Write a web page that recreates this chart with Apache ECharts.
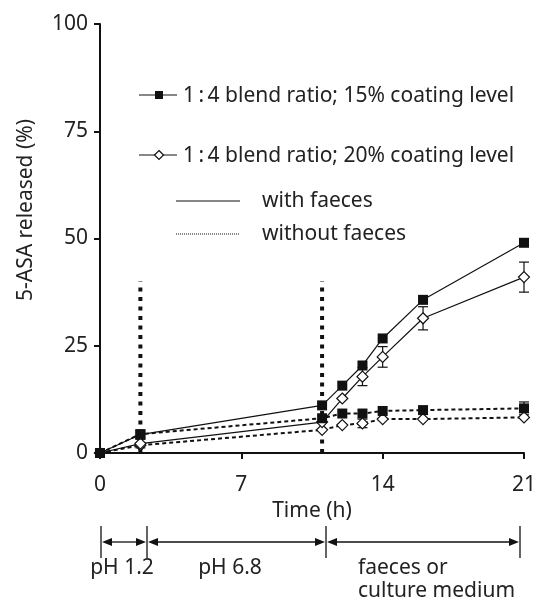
<!DOCTYPE html>
<html>
<head>
<meta charset="utf-8">
<script src="https://cdn.jsdelivr.net/npm/echarts@6/dist/echarts.min.js"></script>
<style>html,body{margin:0;padding:0;background:#fff}#c{width:539px;height:605px}</style>
</head>
<body>
<div id="c"></div>
<script>
// ---- data ----
const times = [0, 2, 11, 12, 13, 14, 16, 21];
const aWith = [0, 4.3, 11.1, 15.7, 20.4, 26.7, 35.7, 49.0];
const bWith = [0, 2.2, 7.2, 12.7, 17.8, 22.4, 31.4, 41.0];
const aWithout = [0, 4.4, 8.1, 9.2, 9.2, 9.8, 10.0, 10.4];
const bWithout = [0, 1.8, 5.4, 6.5, 6.9, 7.9, 7.9, 8.3];
const bWithErr = [0, 1.0, 0, 0, 2.1, 2.4, 2.7, 3.5];
const aWithoutErr = [0, 0, 0, 0, 0, 0, 0, 1.5];
const bWithoutErr = [0, 0, 0, 0, 1.0, 0, 0, 0];
const phaseMarks = [2, 11];
const phaseMarkTop = 40;
const xTicks = [0, 7, 14, 21];
const yTicks = [0, 25, 50, 75, 100];
const legendLabels = ['1\u2009:\u20094 blend ratio; 15% coating level', '1\u2009:\u20094 blend ratio; 20% coating level', 'with faeces', 'without faeces'];
const phaseLabels = ['pH 1.2', 'pH 6.8', 'faeces or', 'culture medium'];

const FONT = 'Noto Sans';
const FS = 21;
const pts = (ys) => times.map((t, i) => [t, ys[i]]);
const errPts = (ys, es) => times.map((t, i) => [t, ys[i], es[i]]).filter(d => d[2] > 0);

function errRender(params, api) {
  const x = api.value(0), y = api.value(1), e = api.value(2);
  const top = api.coord([x, y + e]);
  const bot = api.coord([x, y - e]);
  const hw = 5;
  const st = { stroke: '#111', lineWidth: 1.2 };
  return {
    type: 'group', children: [
      { type: 'line', shape: { x1: top[0], y1: top[1], x2: bot[0], y2: bot[1] }, style: st },
      { type: 'line', shape: { x1: top[0] - hw, y1: top[1], x2: top[0] + hw, y2: top[1] }, style: st },
      { type: 'line', shape: { x1: bot[0] - hw, y1: bot[1], x2: bot[0] + hw, y2: bot[1] }, style: st }
    ]
  };
}

const diamond = 'path://M0,-1 L1,0 L0,1 L-1,0 Z';

const chart = echarts.init(document.getElementById('c'), null, { renderer: 'canvas' });

const lineSeries = (ys, solid, filled) => ({
  type: 'line',
  data: pts(ys),
  symbol: filled ? 'rect' : diamond,
  symbolSize: filled ? 10 : 11,
  showAllSymbol: true,
  itemStyle: filled ? { color: '#111', borderWidth: 0 } : { color: '#fff', borderColor: '#111', borderWidth: 1.2 },
  lineStyle: solid ? { color: '#111', width: 1.2, type: 'solid' } : { color: '#111', width: 2, type: [4, 3] },
  z: filled ? 5 : 4,
  animation: false,
  silent: true
});

const option = {
  animation: false,
  grid: { left: 100, right: 11, top: 24, bottom: 152 },
  xAxis: {
    type: 'value', min: 0, max: 21, interval: 7,
    axisLine: { show: true, lineStyle: { color: '#111', width: 2 } },
    axisTick: { show: true, inside: false, length: 6, lineStyle: { color: '#111', width: 2 } },
    axisLabel: { margin: 22, fontFamily: FONT, fontSize: FS, color: '#222',
      formatter: v => xTicks.includes(v) ? String(v) : '' },
    splitLine: { show: false },
    name: 'Time (h)', nameLocation: 'middle', nameGap: 43,
    nameTextStyle: { fontFamily: FONT, fontSize: FS, color: '#222' }
  },
  yAxis: {
    type: 'value', min: 0, max: 100, interval: 25,
    axisLine: { show: true, lineStyle: { color: '#111', width: 2 } },
    axisTick: { show: true, length: 6, lineStyle: { color: '#111', width: 2 } },
    axisLabel: { margin: 12, fontFamily: FONT, fontSize: FS, color: '#222',
      formatter: v => yTicks.includes(v) ? String(v) : '' },
    splitLine: { show: false }
  },
  series: [
    ...phaseMarks.map(t => ({
      type: 'line', data: [[t, 0], [t, phaseMarkTop]], symbol: 'none',
      lineStyle: { color: '#111', width: 4, type: [4, 5.5] }, z: 2, silent: true
    })),
    lineSeries(aWithout, false, true),
    lineSeries(bWithout, false, false),
    lineSeries(bWith, true, false),
    lineSeries(aWith, true, true),
    { type: 'custom', renderItem: errRender, data: errPts(bWith, bWithErr), z: 3, silent: true },
    { type: 'custom', renderItem: errRender, data: errPts(aWithout, aWithoutErr), z: 3, silent: true },
    { type: 'custom', renderItem: errRender, data: errPts(bWithout, bWithoutErr), z: 3, silent: true }
  ],
  graphic: []
};

chart.setOption(option);

// ---- decorations: legend, y-axis title, phase annotation ----
const txt = (x, y, s, align) => ({
  type: 'text', x, y,
  style: { text: s, fontFamily: FONT, fontSize: FS, fill: '#222', textVerticalAlign: 'middle', textAlign: align || 'left' }
});
const ln = (x1, y1, x2, y2, st) => ({ type: 'line', shape: { x1, y1, x2, y2 }, style: Object.assign({ stroke: '#111', lineWidth: 1.2 }, st || {}) });

const g = [];
g.push(ln(139, 95, 177, 95));
g.push({ type: 'rect', shape: { x: 155, y: 91, width: 8, height: 8 }, style: { fill: '#111' } });
g.push(txt(183, 96, legendLabels[0]));
g.push(ln(139, 155, 177, 155));
g.push({ type: 'polygon', shape: { points: [[159, 150.5], [163.5, 155], [159, 159.5], [154.5, 155]] }, style: { fill: '#fff', stroke: '#111', lineWidth: 1.2 } });
g.push(txt(183, 156, legendLabels[1]));
g.push(ln(176, 201, 240, 201));
g.push(txt(262, 201, legendLabels[2]));
g.push(ln(176, 234, 240, 234, { lineDash: [1, 1], lineWidth: 1.2 }));
g.push(txt(262, 234, legendLabels[3]));
g.push({ type: 'text', x: 26, y: 210, rotation: Math.PI / 2,
  style: { text: '5-ASA released (%)', fontFamily: FONT, fontSize: FS, fill: '#222', textAlign: 'center', textVerticalAlign: 'middle' } });
const bx = [101, 147, 326, 520];
const ay = 542;
bx.forEach(x => g.push(ln(x, 526, x, 558, { lineWidth: 1.3 })));
for (let i = 0; i < bx.length - 1; i++) {
  const x1 = bx[i] + 1, x2 = bx[i + 1] - 1;
  g.push(ln(x1 + 8, ay, x2 - 8, ay, { lineWidth: 1.3 }));
  g.push({ type: 'polygon', shape: { points: [[x1, ay], [x1 + 10, ay - 4], [x1 + 10, ay + 4]] }, style: { fill: '#111' } });
  g.push({ type: 'polygon', shape: { points: [[x2, ay], [x2 - 10, ay - 4], [x2 - 10, ay + 4]] }, style: { fill: '#111' } });
}
g.push(txt(122, 568, phaseLabels[0], 'center'));
g.push(txt(230, 568, phaseLabels[1], 'center'));
g.push(txt(358, 568, phaseLabels[2]));
g.push(txt(358, 591, phaseLabels[3]));

chart.setOption({ graphic: g });
</script>
</body>
</html>
